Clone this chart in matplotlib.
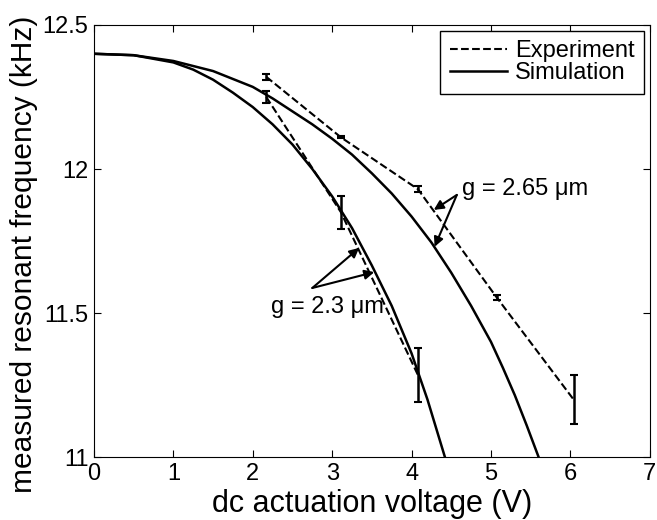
import matplotlib.pyplot as plt
from matplotlib.lines import Line2D

plt.rcParams['font.family'] = ['Liberation Sans', 'DejaVu Sans']

# simulation curves
sim_v_265 = [0, 0.5, 1.0, 1.5, 2.0, 2.25, 2.5, 2.75, 3.0, 3.25, 3.5, 3.75, 4.0, 4.25,
             4.5, 4.75, 5.0, 5.15, 5.3, 5.45, 5.6]
sim_f_265 = [12.400, 12.395, 12.375, 12.340, 12.285, 12.245, 12.200, 12.155, 12.105,
             12.050, 11.985, 11.915, 11.835, 11.745, 11.640, 11.525, 11.400, 11.310,
             11.215, 11.110, 11.0]

sim_v_23 = [0, 0.5, 1.0, 1.25, 1.5, 1.75, 2.0, 2.25, 2.5, 2.75, 3.0, 3.25, 3.5, 3.75,
            4.0, 4.2, 4.42]
sim_f_23 = [12.400, 12.395, 12.370, 12.345, 12.310, 12.265, 12.215, 12.155, 12.085,
            12.000, 11.905, 11.795, 11.665, 11.525, 11.360, 11.200, 11.0]

# experiment points with error bars
exp_v_265 = [2.17, 3.11, 4.08, 5.07, 6.04]
exp_f_265 = [12.32, 12.11, 11.93, 11.555, 11.2]
exp_e_265 = [0.01, 0.004, 0.01, 0.008, 0.085]

exp_v_23 = [2.17, 3.11, 4.08]
exp_f_23 = [12.25, 11.85, 11.285]
exp_e_23 = [0.02, 0.058, 0.094]

fig = plt.figure(figsize=(6.57, 5.2), dpi=100)
ax = fig.add_axes([0.143, 0.121, 0.846, 0.831])

for v, f, e in [(exp_v_265, exp_f_265, exp_e_265), (exp_v_23, exp_f_23, exp_e_23)]:
    ax.errorbar(v, f, yerr=e, color='black', ls='--', lw=1.5,
                capsize=3, elinewidth=1.8, capthick=1.5)
ax.plot(sim_v_265, sim_f_265, color='black', lw=1.8)
ax.plot(sim_v_23, sim_f_23, color='black', lw=1.8)

arrow = dict(arrowstyle='-|>', color='black', lw=1.5, mutation_scale=14, shrinkA=0, shrinkB=0)
for tip in [(4.28, 11.858), (4.29, 11.73)]:
    ax.annotate('', xy=tip, xytext=(4.57, 11.91), arrowprops=arrow)
for tip in [(3.34, 11.726), (3.53, 11.642)]:
    ax.annotate('', xy=tip, xytext=(2.75, 11.587), arrowprops=arrow)
ax.text(4.63, 11.93, 'g = 2.65 \u03bcm', fontsize=17, va='center')
ax.text(2.23, 11.52, 'g = 2.3 \u03bcm', fontsize=17, va='center')

ax.set_xlim(0, 7)
ax.set_ylim(11, 12.5)
ax.set_xticks(range(8))
ax.set_yticks([11, 11.5, 12, 12.5])
ax.set_yticklabels(['11', '11.5', '12', '12.5'])
ax.tick_params(direction='in', top=True, right=True, labelsize=17, length=5, pad=4)
ax.set_xlabel('dc actuation voltage (V)', fontsize=22, labelpad=3)
ax.set_ylabel('measured resonant frequency (kHz)', fontsize=21.5)
ax.yaxis.set_label_coords(-0.1, 0.47)

handles = [Line2D([], [], color='black', ls='--', lw=1.5),
           Line2D([], [], color='black', lw=1.8)]
leg = ax.legend(handles, ['Experiment', 'Simulation'], loc='upper right', fontsize=17,
                fancybox=False, edgecolor='black', borderaxespad=0.25, borderpad=0.4,
                labelspacing=0.0, handlelength=2.4, handletextpad=0.35, framealpha=1)
leg.get_frame().set_linewidth(1.0)

fig.savefig('out.png', dpi=100)
